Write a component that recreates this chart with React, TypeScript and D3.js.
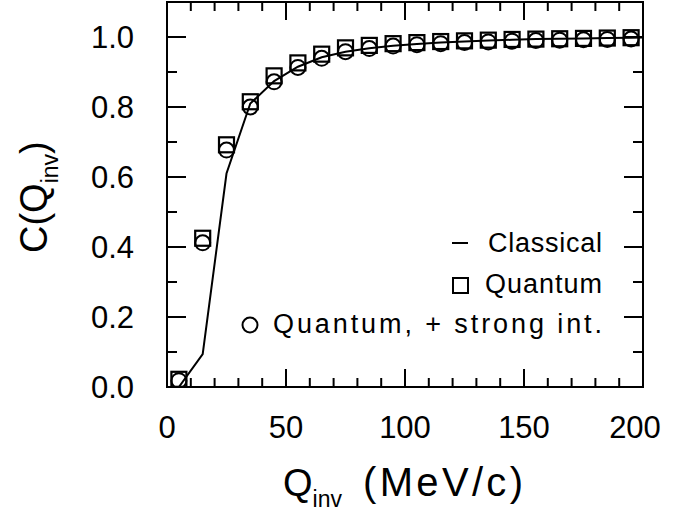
import { useEffect, useRef } from 'react'
import * as d3 from 'd3'

// Q_inv bin centres (MeV/c)
const qinv = [5, 15, 25, 35, 45, 55, 65, 75, 85, 95, 105, 115, 125, 135, 145, 155, 165, 175, 185, 195]
const quantum = [0.022, 0.425, 0.692, 0.815, 0.889, 0.926, 0.951, 0.969, 0.976, 0.981, 0.984, 0.987, 0.989, 0.991, 0.993, 0.994, 0.995, 0.996, 0.997, 0.998]
const quantumStrong = [0.018, 0.412, 0.677, 0.8, 0.872, 0.913, 0.939, 0.958, 0.967, 0.974, 0.978, 0.981, 0.984, 0.986, 0.988, 0.99, 0.991, 0.992, 0.993, 0.994]
const classicalQ = [5, 15, 25, 35, 45, 55, 65, 75, 85, 95, 105, 115, 125, 135, 145, 155, 165, 175, 185, 195, 205]
const classical = [0.0, 0.094, 0.61, 0.81, 0.874, 0.915, 0.942, 0.958, 0.968, 0.975, 0.98, 0.984, 0.987, 0.99, 0.992, 0.994, 0.995, 0.996, 0.997, 0.998, 0.999]

const xTickValues = [0, 50, 100, 150, 200]
const yTickValues = [0, 0.2, 0.4, 0.6, 0.8, 1.0]
const legendLabels = ['Classical', 'Quantum', 'Quantum, + strong int.']

const FONT = '"Liberation Sans", Arial, sans-serif'

export default function App() {
  const ref = useRef<SVGSVGElement>(null)

  useEffect(() => {
    const svg = d3.select(ref.current)
    svg.selectAll('*').remove()

    const left = 167, right = 643, top = 2, bottom = 387
    const x = d3.scaleLinear().domain([0, 200]).range([left, right])
    const y = d3.scaleLinear().domain([0, 1.1]).range([bottom, top])

    svg.append('rect').attr('width', 686).attr('height', 513).attr('fill', '#fff')

    svg.append('clipPath').attr('id', 'plot-clip')
      .append('rect').attr('x', left).attr('y', top).attr('width', right - left).attr('height', bottom - top)

    const axes = svg.append('g').attr('stroke', '#000').attr('stroke-width', 2).attr('fill', 'none')

    // ticks on all four sides, pointing inward
    const xMinor = d3.range(0, 201, 10)
    xMinor.forEach((v) => {
      const len = v % 50 === 0 ? 18 : 9
      axes.append('line').attr('x1', x(v)).attr('x2', x(v)).attr('y1', bottom).attr('y2', bottom - len)
      axes.append('line').attr('x1', x(v)).attr('x2', x(v)).attr('y1', top).attr('y2', top + len)
    })
    const yMinor = d3.range(0, 11).map((i) => i / 10)
    yMinor.forEach((v, i) => {
      const len = i % 2 === 0 ? 19 : 10
      axes.append('line').attr('x1', left).attr('x2', left + len).attr('y1', y(v)).attr('y2', y(v))
      axes.append('line').attr('x1', right).attr('x2', right - len).attr('y1', y(v)).attr('y2', y(v))
    })
    axes.append('rect').attr('x', left).attr('y', top).attr('width', right - left).attr('height', bottom - top)

    // tick labels
    svg.append('g').selectAll('text').data(xTickValues).enter().append('text')
      .attr('x', (d) => x(d) - (d === 200 ? 8 : 0)).attr('y', 438)
      .attr('text-anchor', 'middle')
      .attr('font-family', FONT).attr('font-size', 31)
      .text((d) => d3.format('d')(d))
    svg.append('g').selectAll('text').data(yTickValues).enter().append('text')
      .attr('x', 134).attr('y', (d) => y(d)).attr('dy', '0.36em')
      .attr('text-anchor', 'end')
      .attr('font-family', FONT).attr('font-size', 31)
      .text((d) => d3.format('.1f')(d))

    // axis titles
    const xt = svg.append('text').attr('x', 283).attr('y', 496)
      .attr('font-family', FONT).attr('font-size', 38)
    xt.append('tspan').text('Q')
    xt.append('tspan').attr('font-size', 23).attr('dy', 11).text('inv')
    xt.append('tspan').attr('x', 363).attr('dy', -11).attr('font-size', 40)
      .attr('textLength', 160).attr('lengthAdjust', 'spacing').text('(MeV/c)')

    const yt = svg.append('text').attr('transform', 'translate(47,253) rotate(-90)')
      .attr('font-family', FONT).attr('font-size', 38)
    yt.append('tspan').text('C(Q')
    yt.append('tspan').attr('font-size', 23).attr('dy', 11).text('inv')
    yt.append('tspan').attr('dy', -11).text(')')

    const plot = svg.append('g').attr('clip-path', 'url(#plot-clip)')

    const line = d3.line<number>().x((_, i) => x(classicalQ[i])).y((d) => y(d))
    plot.append('path').attr('d', line(classical))
      .attr('fill', 'none').attr('stroke', '#000').attr('stroke-width', 2)

    const s = 15
    plot.selectAll('rect.q').data(quantum).enter().append('rect').attr('class', 'q')
      .attr('x', (_, i) => x(qinv[i]) - s / 2).attr('y', (d) => y(d) - s / 2)
      .attr('width', s).attr('height', s)
      .attr('fill', 'none').attr('stroke', '#000').attr('stroke-width', 2.2)
    plot.selectAll('circle.qs').data(quantumStrong).enter().append('circle').attr('class', 'qs')
      .attr('cx', (_, i) => x(qinv[i])).attr('cy', (d) => y(d)).attr('r', 7.5)
      .attr('fill', 'none').attr('stroke', '#000').attr('stroke-width', 2)

    // legend
    const lg = svg.append('g').attr('font-family', FONT).attr('font-size', 27)
    const rows = [252, 293, 333]
    const starts = [488, 485, 273]
    const widths = [114, 117, 329]
    legendLabels.forEach((t, i) => {
      lg.append('text').attr('x', starts[i]).attr('y', rows[i])
        .attr('textLength', widths[i]).attr('lengthAdjust', 'spacing').text(t)
    })
    lg.append('line').attr('x1', 452).attr('x2', 468).attr('y1', 243).attr('y2', 243)
      .attr('stroke', '#000').attr('stroke-width', 2)
    lg.append('rect').attr('x', 453).attr('y', 278).attr('width', 15).attr('height', 15)
      .attr('fill', 'none').attr('stroke', '#000').attr('stroke-width', 2)
    lg.append('circle').attr('cx', 250).attr('cy', 325).attr('r', 7.5)
      .attr('fill', 'none').attr('stroke', '#000').attr('stroke-width', 2)
  }, [])

  return <svg ref={ref} width={686} height={513} style={{ position: 'absolute', left: 0, top: 0 }} />
}
